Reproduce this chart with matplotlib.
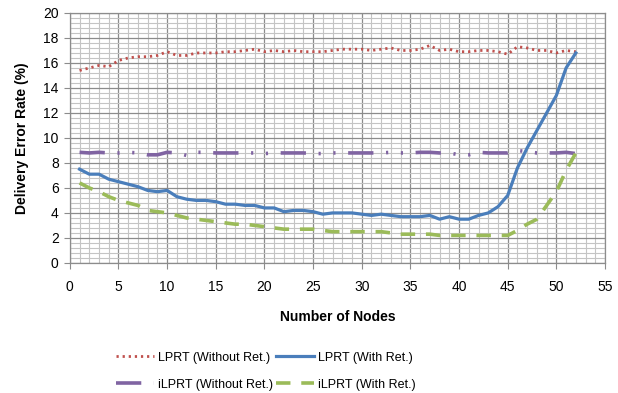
import matplotlib
matplotlib.use("Agg")
import matplotlib.pyplot as plt
from matplotlib.ticker import MultipleLocator

plt.rcParams['font.family'] = ['Liberation Sans', 'DejaVu Sans']

nodes = list(range(1, 53))

lprt_without = [15.4, 15.6, 15.8, 15.7, 16.2, 16.4, 16.5, 16.5, 16.6, 16.9,
                16.6, 16.6, 16.8, 16.8, 16.8, 16.9, 16.9, 17.0, 17.1, 16.9,
                17.0, 16.9, 17.0, 16.9, 16.9, 16.9, 17.0, 17.1, 17.1, 17.1,
                17.0, 17.1, 17.2, 17.0, 17.0, 17.1, 17.4, 17.0, 17.1, 16.9,
                16.9, 17.0, 17.0, 16.9, 16.7, 17.3, 17.2, 17.0, 17.0, 16.8,
                17.0, 16.9]

lprt_with = [7.5, 7.1, 7.1, 6.7, 6.5, 6.3, 6.1, 5.8, 5.7, 5.8,
             5.3, 5.1, 5.0, 5.0, 4.9, 4.7, 4.7, 4.6, 4.6, 4.4,
             4.4, 4.1, 4.2, 4.2, 4.1, 3.9, 4.0, 4.0, 4.0, 3.9,
             3.8, 3.9, 3.8, 3.7, 3.7, 3.7, 3.8, 3.5, 3.7, 3.5,
             3.5, 3.8, 4.0, 4.5, 5.4, 7.6, 9.2, 10.6, 12.0, 13.4,
             15.6, 16.8]

ilprt_without = [8.85, 8.8, 8.85, 8.8, 8.8, 8.85, 8.8, 8.65, 8.65, 8.85,
                 8.8, 8.6, 8.85, 8.85, 8.8, 8.8, 8.8, 8.8, 8.8, 8.75,
                 8.8, 8.8, 8.8, 8.8, 8.75, 8.75, 8.8, 8.8, 8.8, 8.8,
                 8.8, 8.8, 8.85, 8.8, 8.8, 8.85, 8.85, 8.8, 8.8, 8.65,
                 8.65, 8.85, 8.8, 8.8, 8.8, 9.0, 8.9, 8.8, 8.8, 8.8,
                 8.85, 8.75]

ilprt_with = [6.4, 6.0, 5.7, 5.3, 5.0, 4.8, 4.6, 4.2, 4.1, 4.0,
              3.8, 3.6, 3.5, 3.4, 3.3, 3.2, 3.1, 3.1, 3.0, 2.9,
              2.8, 2.7, 2.7, 2.7, 2.7, 2.6, 2.5, 2.5, 2.5, 2.5,
              2.5, 2.5, 2.4, 2.3, 2.3, 2.3, 2.3, 2.2, 2.2, 2.2,
              2.2, 2.2, 2.2, 2.2, 2.2, 2.6, 3.1, 3.5, 4.6, 5.7,
              7.4, 8.8]

fig = plt.figure(figsize=(6.18, 3.93), dpi=100)
ax = fig.add_axes([0.113, 0.331, 0.866, 0.636])

l1, = ax.plot(nodes, lprt_without, color='#c0504d', lw=2.0, linestyle=(0, (0.8, 1.4)),
              label='LPRT (Without Ret.)', zorder=3)
l2, = ax.plot(nodes, lprt_with, color='#4a7ebb', lw=2.3, label='LPRT (With Ret.)', zorder=3)
l3, = ax.plot(nodes, ilprt_without, color='#8064a2', lw=2.6,
              linestyle=(0, (7, 3.5, 0.6, 3.5, 0.6, 3.5)),
              label='iLPRT (Without Ret.)', zorder=3)
l4, = ax.plot(nodes, ilprt_with, color='#9bbb59', lw=2.6, linestyle=(0, (4, 3)),
              label='iLPRT (With Ret.)', zorder=3)

ax.set_xlim(0, 55)
ax.set_ylim(0, 20)
ax.xaxis.set_major_locator(MultipleLocator(5))
ax.xaxis.set_minor_locator(MultipleLocator(1))
ax.yaxis.set_major_locator(MultipleLocator(2))
ax.yaxis.set_minor_locator(MultipleLocator(0.4))
ax.grid(which='major', color='#8c8c8c', lw=0.9, zorder=0)
ax.grid(which='minor', color='#c4c4c4', lw=0.8, zorder=0)
ax.set_axisbelow(True)
for s in ax.spines.values():
    s.set_color('#8c8c8c')
    s.set_linewidth(0.9)
ax.tick_params(which='major', length=4, color='#8c8c8c', labelsize=10, pad=8)
ax.tick_params(which='minor', length=0)
ax.tick_params(axis='y', pad=4)

ax.set_xlabel('Number of Nodes', fontsize=10, fontweight='bold', labelpad=12)
ax.set_ylabel('Delivery Error Rate (%)', fontsize=10, fontweight='bold', labelpad=10)

fig.legend(handles=[l1, l3, l2, l4], loc='lower center', bbox_to_anchor=(0.43, -0.023),
           ncol=2, frameon=False, fontsize=9, handlelength=3.0, handletextpad=0.3,
           columnspacing=0.3, labelspacing=1.2)

fig.savefig('out.png', dpi=100)
